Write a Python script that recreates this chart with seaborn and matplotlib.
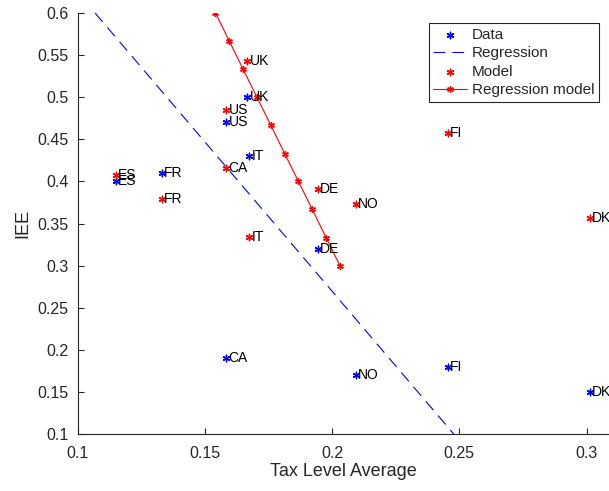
import matplotlib
matplotlib.use("Agg")
import matplotlib.pyplot as plt
import seaborn as sns
import pandas as pd

countries = ["ES", "FR", "US", "UK", "IT", "CA", "DE", "NO", "FI", "DK"]
tax_level = [0.1150, 0.1333, 0.1585, 0.1667, 0.1675, 0.1585, 0.1945, 0.2093, 0.2455, 0.3012]
iee_data = [0.400, 0.410, 0.470, 0.500, 0.430, 0.190, 0.320, 0.170, 0.180, 0.150]
iee_model = [0.408, 0.379, 0.485, 0.543, 0.334, 0.416, 0.391, 0.373, 0.458, 0.356]

reg_x = [0.1069, 0.2478]
reg_y = [0.600, 0.100]

regm_x = [0.1542, 0.1596, 0.1651, 0.1705, 0.1759, 0.1814, 0.1868, 0.1922, 0.1977, 0.2031]
regm_y = [0.600, 0.567, 0.533, 0.500, 0.467, 0.433, 0.400, 0.367, 0.333, 0.300]

sns.set_style("ticks")
plt.rcParams["font.family"] = ["Liberation Sans", "DejaVu Sans"]

df = pd.DataFrame({"country": countries, "tax": tax_level, "data": iee_data, "model": iee_model})
reg_df = pd.DataFrame({"x": reg_x, "y": reg_y})
regm_df = pd.DataFrame({"x": regm_x, "y": regm_y})

fig = plt.figure(figsize=(6.09, 4.91), dpi=100)
ax = fig.add_axes([0.1273, 0.116, 0.8727, 0.8575])

ast = (6, 2, 0)
DASH = [10.5, 6.5]
sns.scatterplot(data=df, x="tax", y="data", ax=ax, marker=ast, s=22, color="blue",
                edgecolor="blue", linewidth=1.0, label="Data", zorder=3)
sns.lineplot(data=reg_df, x="x", y="y", ax=ax, color="blue", linewidth=0.8,
             sort=False, estimator=None, label="Regression")
ax.lines[-1].set_dashes(DASH)
sns.scatterplot(data=df, x="tax", y="model", ax=ax, marker=ast, s=22, color="red",
                edgecolor="red", linewidth=1.0, label="Model", zorder=3)
sns.lineplot(data=regm_df, x="x", y="y", ax=ax, color="red", linewidth=0.8,
             sort=False, estimator=None, marker=ast, markersize=4.8,
             markeredgewidth=1.0, markeredgecolor="red", label="Regression model")

for c, x, y1, y2 in zip(countries, tax_level, iee_data, iee_model):
    for y in (y1, y2):
        ax.annotate(c, (x, y), xytext=(1.5, 0), textcoords="offset points",
                    ha="left", va="center", fontsize=10, color="black", zorder=4)

ax.set_xlim(0.1, 0.3088)
ax.set_ylim(0.1, 0.6)
ax.set_xticks([0.1, 0.15, 0.2, 0.25, 0.3])
ax.set_xticklabels(["0.1", "0.15", "0.2", "0.25", "0.3"])
ax.set_yticks([0.1, 0.15, 0.2, 0.25, 0.3, 0.35, 0.4, 0.45, 0.5, 0.55, 0.6])
ax.set_yticklabels(["0.1", "0.15", "0.2", "0.25", "0.3", "0.35", "0.4", "0.45", "0.5", "0.55", "0.6"])

gray = "#262626"
for side in ("top", "right"):
    ax.spines[side].set_visible(False)
for side in ("left", "bottom"):
    ax.spines[side].set_color(gray)
    ax.spines[side].set_linewidth(0.8)
ax.tick_params(direction="in", length=4, width=0.8, colors=gray, labelsize=11.5,
               labelcolor=gray)
ax.tick_params(axis="x", pad=8.5)
ax.tick_params(axis="y", pad=6.5)

ax.set_xlabel("Tax Level Average", fontsize=13, color=gray, labelpad=1.5)
ax.set_ylabel("IEE", fontsize=13, color=gray, labelpad=4)

leg = ax.legend(loc="upper right", bbox_to_anchor=(0.983, 0.953),
                bbox_transform=fig.transFigure, fontsize=11, frameon=True,
                fancybox=False, edgecolor="#262626", framealpha=1,
                handlelength=2.2, labelspacing=0.3, borderpad=0.3,
                handletextpad=0.3, borderaxespad=0)
leg.get_frame().set_linewidth(0.8)
for h in leg.legend_handles:
    if h.get_label() == "Regression":
        h.set_dashes(DASH)

fig.savefig("out.png", dpi=100)
